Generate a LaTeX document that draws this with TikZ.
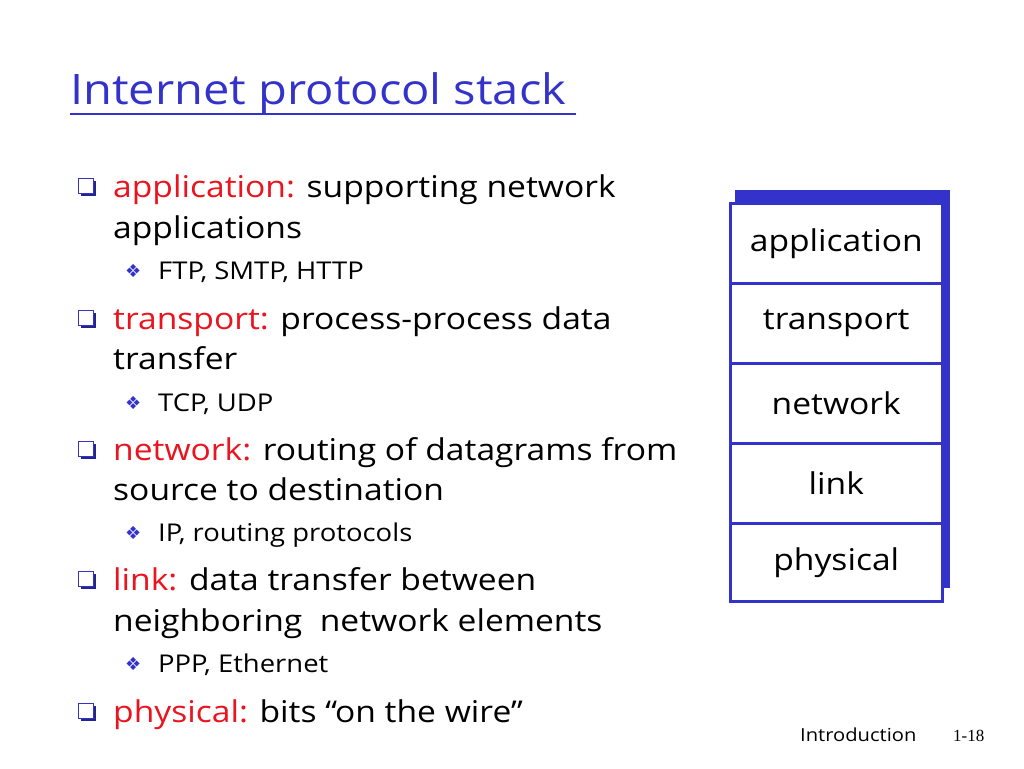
\documentclass[tikz,border=0pt]{standalone}
\usepackage{fontspec}
\setmainfont{Open Sans}[FakeStretch=1.12]
\newfontfamily\dejavu{DejaVu Sans}
\newfontfamily\serifnum{Liberation Serif}
\definecolor{slblue}{RGB}{51,51,204}
\definecolor{slred}{RGB}{235,20,30}
\begin{document}
\begin{tikzpicture}[x=1pt,y=-1pt,
  main/.style={anchor=base west,inner sep=0pt,font=\fontsize{30}{33}\selectfont},
  sub/.style={anchor=base west,inner sep=0pt,font=\fontsize{24.5}{28}\selectfont},
  layer/.style={draw=slblue,line width=2.5pt,fill=white,minimum width=212pt,minimum height=80pt,inner sep=0pt,font=\fontsize{30}{33}\selectfont,anchor=north west},
  sqb/.style={draw=slblue,line width=1.5pt,fill=white,minimum size=15pt,inner sep=0pt},
  sqsh/.style={fill=slblue!70!black,minimum size=15pt,inner sep=0pt},
  dia/.style={anchor=base west,inner sep=0pt,text=slblue,font=\dejavu\fontsize{18}{20}\selectfont}]
\useasboundingbox (0,0) rectangle (1024,768);
\fill[white] (0,0) rectangle (1024,768);
% title
\node[anchor=base west,inner sep=0pt,text=slblue,font=\fontsize{42}{46}\selectfont] (title) at (70,104) {Internet protocol stack};
\draw[slblue,line width=2pt] (70,114) -- (576,114);
% bullets
\foreach \y/\n in {186/b1,318/b2,449/b3,579/b4,711/b5}{
  \node[sqsh] at (88,\y+2) {};
  \node[sqb] (\n) at (86,\y) {};
}
\foreach \y/\n in {270/d1,402/d2,532/d3,663/d4}{
  \node[dia] (\n) at (125,\y+7) {❖};
}
\node[main] (l1) at (113,197) {\textcolor{slred}{application:} supporting network};
\node[main] (l2) at (113,238) {applications};
\node[sub] (s1) at (158,279) {FTP, SMTP, HTTP};
\node[main] (l3) at (113,329) {\textcolor{slred}{transport:} process-process data};
\node[main] (l4) at (113,369) {transfer};
\node[sub] (s2) at (158,411) {TCP, UDP};
\node[main] (l5) at (113,460) {\textcolor{slred}{network:} routing of datagrams from};
\node[main] (l6) at (113,500) {source to destination};
\node[sub] (s3) at (158,541) {IP, routing protocols};
\node[main] (l7) at (113,590) {\textcolor{slred}{link:} data transfer between};
\node[main] (l8) at (113,631) {neighboring\ \ network elements};
\node[sub] (s4) at (158,672) {PPP, Ethernet};
\node[main] (l9) at (113,722) {\textcolor{slred}{physical:} bits “on the wire”};
% stack
\fill[slblue] (735,190) rectangle (950,588);
\node[layer] (app) at (729,202) {application};
\node[layer] (tra) at (729,282) {transport};
\node[layer] (net) at (729,362) {network};
\node[layer] (lnk) at (729,442) {link};
\node[layer,minimum height=78pt] (phy) at (729,522) {physical};
% footer
\node[anchor=base west,inner sep=0pt,font=\fontsize{18}{20}\selectfont] (intro) at (800,741) {Introduction};
\node[anchor=base west,inner sep=0pt,font=\serifnum\fontsize{17}{20}\selectfont] (pg) at (953,741) {1-18};
\end{tikzpicture}
\end{document}
